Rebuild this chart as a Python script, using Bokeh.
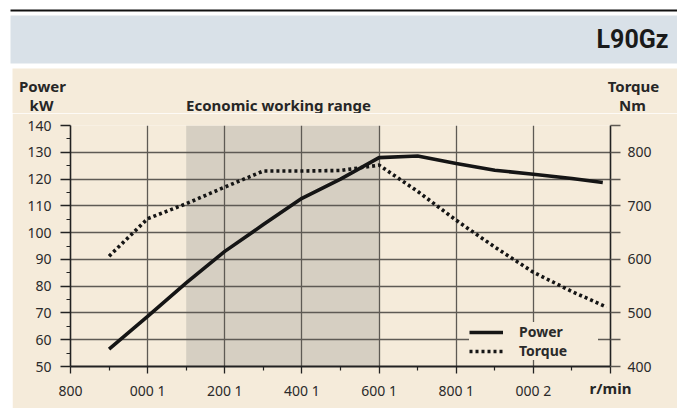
from bokeh.plotting import figure
from bokeh.models import (Range1d, LinearAxis, FixedTicker, BoxAnnotation, Label,
                          Legend, LegendItem, Spacer, Plot)
from bokeh.layouts import column, row
from bokeh.embed import file_html
from bokeh.resources import INLINE

# ---------------- data ----------------
model_name = "L90Gz"
power_rpm = [900, 1000, 1100, 1200, 1300, 1400, 1500, 1600, 1700, 1800, 1900, 2000, 2100, 2180]
power_kw = [56.5, 68.7, 81.2, 93, 103, 112.8, 120, 128, 128.6, 125.8, 123.3, 121.8, 120.2, 118.7]
torque_rpm = [900, 1000, 1100, 1200, 1300, 1400, 1500, 1600, 1700, 1800, 1900, 2000, 2100, 2190]
torque_nm = [606, 676, 704, 735, 765, 765, 766, 776, 727, 673, 623, 576, 540, 511]
econ_range = [1100, 1600]
x_ticks = [800, 1000, 1200, 1400, 1600, 1800, 2000, 2200]
x_tick_labels = ["800", "000 1", "200 1", "400 1", "600 1", "800 1", "000 2", ""]
x_unit = "r/min"
x_minor = [900, 1100, 1300, 1500, 1700, 1900, 2100]
kw_ticks = [50, 60, 70, 80, 90, 100, 110, 120, 130, 140]
kw_minor = [55, 65, 75, 85, 95, 105, 115, 125, 135]
nm_ticks = [400, 450, 500, 550, 600, 650, 700, 750, 800, 850]
nm_labels = ["400", "", "500", "", "600", "", "700", "", "800", ""]

CREAM = "#f5ebda"
SHADE = "#d6cfc2"
BAND = "#d9e1e8"
INK = "#222222"
TXT = "#262626"
GRID = "#5e5a54"
FONT = "Noto Sans"

W = 677
HH = 113          # header height (page px)
MH = 408 - HH     # main chart height
LEFT_GAP = 12

HAS_FA = "frame_align" in Plot.properties()
HAS_ALIGN = "axis_label_align" in LinearAxis.properties()

# ---------------- header (band + titles above the chart) ----------------
h = figure(width=W, height=HH, x_range=Range1d(0, W), y_range=Range1d(HH, 0),
           output_backend="svg", toolbar_location=None, min_border=0,
           x_axis_location=None, y_axis_location=None)
if HAS_FA:
    h.frame_align = False
h.grid.visible = False
h.outline_line_color = None
h.background_fill_color = "white"
h.border_fill_color = "white"
h.add_layout(BoxAnnotation(left=10, right=W, top=9, bottom=11, fill_color="#111111",
                           fill_alpha=1, line_color=None))
h.add_layout(BoxAnnotation(left=10, right=W, top=15, bottom=63, fill_color=BAND,
                           fill_alpha=1, line_color=None))
h.add_layout(BoxAnnotation(left=LEFT_GAP, right=W, top=68, bottom=HH + 1, fill_color=CREAM,
                           fill_alpha=1, line_color=None))
h.add_layout(Label(x=668, y=39, text=model_name, text_align="right", text_baseline="middle",
                   text_font="Roboto", text_font_style="bold",
                   text_font_size="25px", text_color="#1a1a1a"))

def htext(x, y, t):
    h.add_layout(Label(x=x, y=y, text=t, text_align="center", text_baseline="middle",
                       text_font=FONT, text_font_style="bold", text_font_size="15px",
                       text_color=TXT))

htext(42, 85, "Power")
htext(41, 104, "kW")
htext(633, 85, "Torque")
htext(632, 104, "Nm")
htext(278, 104, "Economic working range")

# ---------------- main chart ----------------
p = figure(width=W - LEFT_GAP, height=MH, x_range=Range1d(800, 2200), y_range=Range1d(50, 140),
           output_backend="svg", toolbar_location=None,
           min_border_left=70 - LEFT_GAP, min_border_right=W - 610,
           min_border_top=125 - HH, min_border_bottom=408 - 366,
           x_axis_location=None, y_axis_location=None)
if HAS_FA:
    p.frame_align = False
p.extra_y_ranges = {"torque": Range1d(400, 850)}
p.background_fill_color = CREAM
p.border_fill_color = CREAM
p.outline_line_color = None

shade = BoxAnnotation(left=econ_range[0], right=econ_range[1], fill_color=SHADE,
                      fill_alpha=1, line_color=None, level="image")
p.add_layout(shade)

p.xgrid.ticker = FixedTicker(ticks=x_ticks[1:-1])
p.ygrid.ticker = FixedTicker(ticks=kw_ticks[1:])
for g in (p.xgrid[0], p.ygrid[0]):
    g.grid_line_color = GRID
    g.grid_line_width = 1.3
    g.level = "underlay"

def style_axis(ax):
    ax.axis_line_color = INK
    ax.axis_line_width = 1.6
    ax.major_tick_line_color = INK
    ax.major_tick_line_width = 1.3
    ax.minor_tick_line_color = INK
    ax.minor_tick_line_width = 1.2
    ax.major_tick_in = 0
    ax.minor_tick_in = 0
    ax.major_label_text_font = FONT
    ax.major_label_text_font_size = "14px"
    ax.major_label_text_color = "#2a2a2a"

labels_x = list(x_tick_labels)
if not HAS_ALIGN:
    labels_x[-1] = x_unit
xa = LinearAxis(ticker=FixedTicker(ticks=x_ticks, minor_ticks=x_minor),
                major_label_overrides=dict(zip(x_ticks, labels_x)))
style_axis(xa)
xa.axis_line_width = 2.2
xa.major_tick_out = 7
xa.minor_tick_out = 4
xa.major_label_standoff = 7
if HAS_ALIGN:
    xa.axis_label = x_unit
    xa.axis_label_align = "end"
    xa.axis_label_standoff = -25
    xa.axis_label_text_font = FONT
    xa.axis_label_text_font_style = "bold"
    xa.axis_label_text_font_size = "15px"
    xa.axis_label_text_color = TXT
p.add_layout(xa, "below")

ya = LinearAxis(ticker=FixedTicker(ticks=kw_ticks, minor_ticks=kw_minor))
style_axis(ya)
ya.major_tick_out = 10
ya.minor_tick_out = 4
ya.major_label_standoff = 9
p.add_layout(ya, "left")

ra = LinearAxis(y_range_name="torque", ticker=FixedTicker(ticks=nm_ticks),
                major_label_overrides=dict(zip(nm_ticks, nm_labels)))
style_axis(ra)
ra.major_tick_out = 10
ra.minor_tick_out = 0
ra.major_tick_line_color = GRID
ra.major_label_standoff = 7
p.add_layout(ra, "right")

r_pow = p.line(power_rpm, power_kw, line_color="#151515", line_width=3.6)
r_tq = p.line(torque_rpm, torque_nm, y_range_name="torque", line_color="#151515",
              line_width=3.6, line_dash="3 3", line_cap="butt")

legend = Legend(items=[LegendItem(label="Power", renderers=[r_pow]),
                       LegendItem(label="Torque", renderers=[r_tq])],
                location=(399, 6), orientation="vertical",
                background_fill_color=CREAM, background_fill_alpha=1,
                border_line_color=None, padding=6, margin=0, spacing=0,
                glyph_width=34, glyph_height=18, label_height=18, label_width=79,
                label_standoff=16, label_text_font=FONT, label_text_font_style="bold",
                label_text_font_size="14px", label_text_color="#2a2a2a")
p.add_layout(legend, "center")

layout = column(h, row(Spacer(width=LEFT_GAP, height=MH), p, spacing=0), spacing=0)
open("out.html", "w").write(file_html(layout, INLINE))
